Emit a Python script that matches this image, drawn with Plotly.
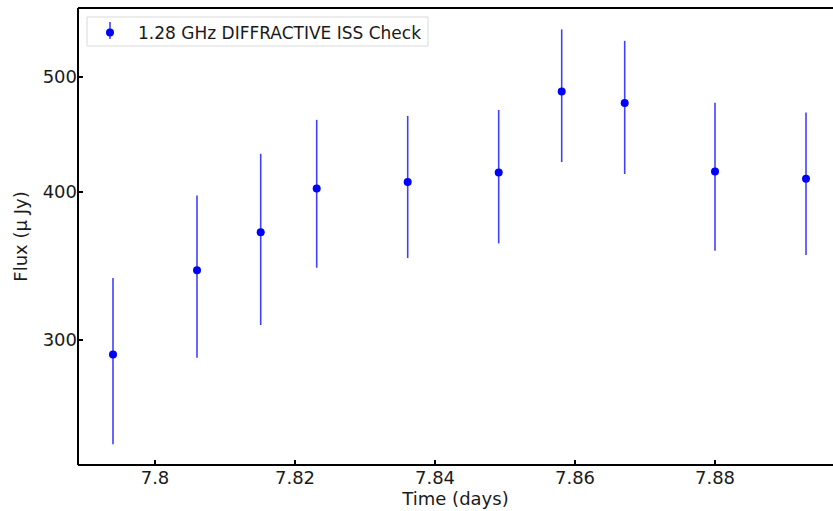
import plotly.graph_objects as go
import numpy as np

# Data
time_days = [7.7940, 7.8060, 7.8151, 7.8231, 7.8361, 7.8491, 7.8581, 7.8671, 7.8800, 7.8930]
flux_ujy = [291.6, 343.5, 369.8, 402.7, 407.7, 415.5, 486.3, 475.4, 416.3, 410.4]
flux_err = [46.7, 53.7, 61.0, 57.5, 56.0, 53.6, 62.4, 61.2, 59.5, 56.5]

x_ticks = [7.80, 7.82, 7.84, 7.86, 7.88]
x_tick_labels = ["7.8", "7.82", "7.84", "7.86", "7.88"]
y_ticks = [300, 400, 500]
y_tick_labels = ["300", "400", "500"]

series_name = "1.28 GHz DIFFRACTIVE ISS Check"

FONT = "DejaVu Sans"
TXT = "#1a1a1a"

fig = go.Figure()
fig.add_trace(go.Scatter(
    x=time_days, y=flux_ujy, mode="markers", name=series_name,
    marker=dict(color="#0000ff", size=8),
    error_y=dict(type="data", array=flux_err, visible=True,
                 color="rgba(0,0,255,0.75)", thickness=1.6, width=0),
))

W, H = 833, 511
ml, mt, mb, mr = 78, 8, 46, 0
pw, ph = W - ml - mr, H - mt - mb


def px(xp):
    return (xp - ml) / pw


def py(yp):
    return 1 - (yp - mt) / ph


shapes = [
    # spines (left, top, bottom)
    dict(type="line", xref="paper", yref="paper", x0=0, x1=0, y0=0, y1=1,
         line=dict(color="black", width=2)),
    dict(type="line", xref="paper", yref="paper", x0=0, x1=1.01, y0=1, y1=1,
         line=dict(color="black", width=2)),
    dict(type="line", xref="paper", yref="paper", x0=0, x1=1.01, y0=0, y1=0,
         line=dict(color="black", width=2)),
    # legend frame
    dict(type="rect", xref="paper", yref="paper", x0=px(87), x1=px(428), y0=py(46), y1=py(17),
         line=dict(color="#d9d9d9", width=1), fillcolor="rgba(255,255,255,0.8)", layer="above"),
    # legend error line
    dict(type="line", xref="paper", yref="paper", x0=px(110), x1=px(110), y0=py(39), y1=py(22),
         line=dict(color="rgba(0,0,255,0.75)", width=1.6), layer="above"),
]

fig.update_layout(
    width=W, height=H,
    margin=dict(l=ml, r=mr, t=mt, b=mb, pad=0),
    paper_bgcolor="white", plot_bgcolor="white",
    font=dict(family=FONT, size=13, color=TXT),
    showlegend=True,
    shapes=shapes,
    legend=dict(x=px(82), y=py(15), xanchor="left", yanchor="top",
                bgcolor="rgba(0,0,0,0)", borderwidth=0,
                font=dict(family=FONT, size=17, color=TXT),
                itemwidth=46),
    xaxis=dict(
        range=[7.8 - 77 / 7000, 7.8 + 678 / 7000],
        tickvals=x_ticks, ticktext=x_tick_labels,
        ticks="inside", ticklen=5, tickwidth=1.5, tickcolor="black",
        showline=False, showgrid=False, zeroline=False,
        tickfont=dict(family=FONT, size=18, color=TXT),
        title=dict(text="Time (days)", font=dict(family=FONT, size=18, color=TXT), standoff=2),
    ),
    yaxis=dict(
        type="log",
        range=[np.log10(235.2), np.log10(572)],
        tickvals=y_ticks, ticktext=y_tick_labels,
        ticks="inside", ticklen=5, tickwidth=1.5, tickcolor="black",
        showline=False, showgrid=False, zeroline=False,
        tickfont=dict(family=FONT, size=18, color=TXT),
        title=dict(text="Flux (\u03bc Jy)", font=dict(family=FONT, size=18, color=TXT), standoff=10),
    ),
)

fig.write_html("out.html", config={"displayModeBar": False})
